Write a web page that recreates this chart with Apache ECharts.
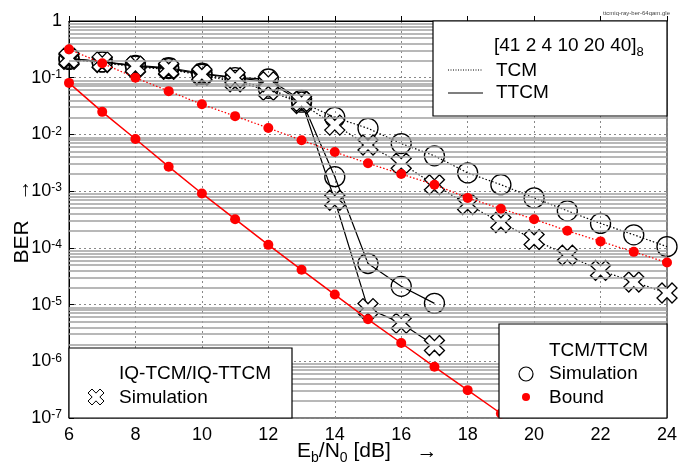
<!DOCTYPE html>
<html>
<head>
<meta charset="utf-8" />
<title></title>
<script src="https://cdn.jsdelivr.net/npm/echarts@6/dist/echarts.min.js"></script>
<style type="text/css">
  html, body { margin: 0; padding: 0; background: #fff; }
  #main { width: 691px; height: 466px; }
</style>
</head>
<body>
<div id="main"></div>
<script type="text/javascript">
// Eb/N0 in dB, one point per dB starting at 6
var ebn0 = [6, 7, 8, 9, 10, 11, 12, 13, 14, 15, 16, 17, 18, 19, 20, 21, 22, 23, 24];
var boundIQ = [0.081, 0.025, 0.0083, 0.0027, 0.00091, 0.00032, 1.13e-4, 4.1e-5, 1.5e-5, 5.5e-6, 2.1e-6, 8e-7, 3.1e-7, 1.2e-7];
var boundTCM = [0.316, 0.18, 0.1, 0.058, 0.034, 0.021, 0.013, 0.0079, 0.0049, 0.0031, 0.002, 0.0013, 7.6e-4, 4.9e-4, 3.2e-4, 2.0e-4, 1.3e-4, 8.5e-5, 5.5e-5];
var tcmSim = [0.21, 0.19, 0.16, 0.145, 0.115, 0.09, 0.065, 0.037, 0.02, 0.0128, 0.0069, 0.0042, 0.0021, 0.0013, 7.6e-4, 4.5e-4, 2.7e-4, 1.7e-4, 1.05e-4];
var iqTcmSim = [0.21, 0.185, 0.155, 0.14, 0.11, 0.085, 0.06, 0.035, 0.0146, 0.0065, 0.0031, 0.0013, 5.8e-4, 2.8e-4, 1.4e-4, 7.4e-5, 4e-5, 2.5e-5, 1.6e-5];
var ttcmSim = [0.22, 0.19, 0.165, 0.15, 0.12, 0.1, 0.095, 0.04, 0.0018, 5.3e-5, 2.1e-5, 1.05e-5];
var iqTtcmSim = [0.22, 0.19, 0.16, 0.145, 0.115, 0.1, 0.085, 0.038, 6.9e-4, 8.5e-6, 4.7e-6, 1.9e-6];

var FONT = '"Liberation Sans", Arial, sans-serif';
// X shaped marker outline in a 10x10 box
var crossPts = [[0, 2.5], [2.5, 0], [5, 2.6], [7.5, 0], [10, 2.5], [7.4, 5], [10, 7.5], [7.5, 10], [5, 7.4], [2.5, 10], [0, 7.5], [2.6, 5]];
var crossPath = 'path://M' + crossPts.map(function (p) { return p[0] + ',' + p[1]; }).join('L') + 'Z';

function pairs(ys) {
  var out = [];
  for (var i = 0; i < ys.length; i++) out.push([ebn0[i], ys[i]]);
  return out;
}

function crossAt(x, y, size) {
  return crossPts.map(function (p) { return [x + p[0] * size / 10, y + p[1] * size / 10]; });
}

// minor grid lines 2..9 in every decade, placed on a hidden linear axis of log10 values
var minorLines = [];
for (var e = -7; e < 0; e++) {
  for (var k = 2; k <= 9; k++) minorLines.push({ yAxis: e + Math.log10(k) });
}

var myChart = echarts.init(document.getElementById('main'));

var circleStyle = { color: 'rgba(0,0,0,0)', borderColor: '#000', borderWidth: 1.3 };
var crossStyle = { color: '#fff', borderColor: '#000', borderWidth: 1.3 };

var option = {
  animation: false,
  textStyle: { fontFamily: FONT },
  grid: {
    left: 69, right: 24, top: 21, bottom: 48,
    show: true, borderColor: '#000', borderWidth: 1, backgroundColor: '#fff'
  },
  xAxis: {
    type: 'value', min: 6, max: 24, interval: 2,
    axisLine: { lineStyle: { color: '#000' } },
    axisTick: { inside: true, length: 5, lineStyle: { color: '#000' } },
    axisLabel: { color: '#000', fontSize: 18, margin: 8, fontFamily: FONT },
    splitLine: { show: true, lineStyle: { color: '#888', type: [2, 3], width: 1 } }
  },
  yAxis: [{
    type: 'log', logBase: 10, min: 1e-7, max: 1,
    axisLine: { lineStyle: { color: '#000' } },
    axisTick: { inside: true, length: 5, lineStyle: { color: '#000' } },
    axisLabel: {
      color: '#000', margin: 7, fontFamily: FONT,
      formatter: function (v) {
        var ex = Math.round(Math.log10(v));
        if (ex === 0) return '{one|1}';
        return '{b|10}{sup|' + ex + '}';
      },
      rich: {
        one: { fontSize: 18, fontFamily: FONT, color: '#000' },
        b: { fontSize: 18, lineHeight: 18, padding: [8, 0, 0, 0], verticalAlign: 'bottom', fontFamily: FONT, color: '#000' },
        sup: { fontSize: 12, lineHeight: 12, padding: [0, 0, 6, 0], verticalAlign: 'bottom', fontFamily: FONT, color: '#000' }
      }
    },
    splitLine: { show: true, lineStyle: { color: '#888', type: [2, 3], width: 1 } }
  }, {
    type: 'value', min: -7, max: 0, show: false, splitLine: { show: false }
  }],
  series: [
    {
      type: 'line', data: [], z: 1, silent: true, yAxisIndex: 1,
      markLine: {
        silent: true, symbol: 'none', label: { show: false },
        lineStyle: { color: '#a0a0a0', type: 'solid', width: 1.5 },
        data: minorLines
      }
    },
    {
      name: 'TCM Simulation', type: 'line', data: pairs(tcmSim),
      symbol: 'circle', symbolSize: 20, z: 3,
      lineStyle: { color: '#000', width: 1.2, type: [1.5, 2] },
      itemStyle: circleStyle
    },
    {
      name: 'TTCM Simulation', type: 'line', data: pairs(ttcmSim),
      symbol: 'circle', symbolSize: 20, z: 3,
      lineStyle: { color: '#000', width: 1.2 },
      itemStyle: circleStyle
    },
    {
      name: 'IQ-TCM Simulation', type: 'line', data: pairs(iqTcmSim),
      symbol: crossPath, symbolSize: 20, z: 4,
      lineStyle: { color: '#000', width: 1.2, type: [1.5, 2] },
      itemStyle: crossStyle
    },
    {
      name: 'IQ-TTCM Simulation', type: 'line', data: pairs(iqTtcmSim),
      symbol: crossPath, symbolSize: 20, z: 4,
      lineStyle: { color: '#000', width: 1.2 },
      itemStyle: crossStyle
    },
    {
      name: 'TCM Bound', type: 'line', data: pairs(boundTCM),
      symbol: 'circle', symbolSize: 10, z: 5,
      lineStyle: { color: '#f00', width: 1.3, type: [1.5, 2] },
      itemStyle: { color: '#f00' }
    },
    {
      name: 'IQ-TCM Bound', type: 'line', data: pairs(boundIQ),
      symbol: 'circle', symbolSize: 10, z: 5,
      lineStyle: { color: '#f00', width: 1.5 },
      itemStyle: { color: '#f00' }
    }
  ],
  graphic: [
    // file tag
    { type: 'text', z: 100, x: 603, y: 10, style: { text: 'ttcmiq-ray-ber-64qam.gle', fontSize: 6, fontFamily: FONT, fill: '#444' } },
    // axis titles
    { type: 'text', z: 100, x: 22, y: 242, rotation: Math.PI / 2,
      style: { text: 'BER', fontSize: 21, fontFamily: FONT, fill: '#000', align: 'center', verticalAlign: 'middle' } },
    { type: 'text', z: 100, x: 23, y: 190, rotation: Math.PI / 2,
      style: { text: '\u2192', fontSize: 21, fontFamily: FONT, fill: '#000', align: 'center', verticalAlign: 'middle' } },
    { type: 'text', z: 100, x: 297, y: 455,
      style: {
        text: '{b|E}{s|b}{b|/N}{s|0}{b| [dB]}', fontFamily: FONT, fill: '#000', align: 'left', verticalAlign: 'middle',
        rich: {
          b: { fontSize: 21, lineHeight: 21, padding: [0, 0, 4, 0], verticalAlign: 'bottom', fontFamily: FONT },
          s: { fontSize: 14, lineHeight: 14, verticalAlign: 'bottom', fontFamily: FONT }
        }
      } },
    { type: 'text', z: 100, x: 427, y: 452,
      style: { text: '\u2192', fontSize: 21, fontFamily: FONT, fill: '#000', align: 'center', verticalAlign: 'middle' } },

    // top right legend box
    { type: 'rect', z: 100, shape: { x: 433, y: 21, width: 234, height: 95 }, style: { fill: '#fff', stroke: '#000', lineWidth: 1.2 } },
    { type: 'text', z: 101, x: 494, y: 49,
      style: {
        text: '{b|[41 2 4 10 20 40]}{s|8}', fontFamily: FONT, fill: '#000', align: 'left', verticalAlign: 'middle',
        rich: {
          b: { fontSize: 19, lineHeight: 19, padding: [0, 0, 3, 0], verticalAlign: 'bottom', fontFamily: FONT },
          s: { fontSize: 13, lineHeight: 13, verticalAlign: 'bottom', fontFamily: FONT }
        }
      } },
    { type: 'line', z: 101, shape: { x1: 448, y1: 70, x2: 483, y2: 70 }, style: { stroke: '#000', lineWidth: 1, lineDash: [1, 1.5] } },
    { type: 'text', z: 101, x: 496, y: 71, style: { text: 'TCM', fontSize: 19, fontFamily: FONT, fill: '#000', align: 'left', verticalAlign: 'middle' } },
    { type: 'line', z: 101, shape: { x1: 448, y1: 93, x2: 483, y2: 93 }, style: { stroke: '#000', lineWidth: 1.2 } },
    { type: 'text', z: 101, x: 496, y: 93, style: { text: 'TTCM', fontSize: 19, fontFamily: FONT, fill: '#000', align: 'left', verticalAlign: 'middle' } },

    // bottom left legend box
    { type: 'rect', z: 100, shape: { x: 69, y: 348, width: 223, height: 70 }, style: { fill: '#fff', stroke: '#000', lineWidth: 1.2 } },
    { type: 'text', z: 101, x: 119, y: 374, style: { text: 'IQ-TCM/IQ-TTCM', fontSize: 19, fontFamily: FONT, fill: '#000', align: 'left', verticalAlign: 'middle' } },
    { type: 'polygon', z: 101, shape: { points: crossAt(88, 389, 16) }, style: { fill: '#fff', stroke: '#000', lineWidth: 1 } },
    { type: 'text', z: 101, x: 119, y: 398, style: { text: 'Simulation', fontSize: 19, fontFamily: FONT, fill: '#000', align: 'left', verticalAlign: 'middle' } },

    // bottom right legend box
    { type: 'rect', z: 100, shape: { x: 499, y: 324, width: 168, height: 94 }, style: { fill: '#fff', stroke: '#000', lineWidth: 1.2 } },
    { type: 'text', z: 101, x: 549, y: 351, style: { text: 'TCM/TTCM', fontSize: 19, fontFamily: FONT, fill: '#000', align: 'left', verticalAlign: 'middle' } },
    { type: 'circle', z: 101, shape: { cx: 526, cy: 374, r: 7 }, style: { fill: '#fff', stroke: '#000', lineWidth: 1.2 } },
    { type: 'text', z: 101, x: 549, y: 374, style: { text: 'Simulation', fontSize: 19, fontFamily: FONT, fill: '#000', align: 'left', verticalAlign: 'middle' } },
    { type: 'circle', z: 101, shape: { cx: 526, cy: 397, r: 4 }, style: { fill: '#f00' } },
    { type: 'text', z: 101, x: 549, y: 398, style: { text: 'Bound', fontSize: 19, fontFamily: FONT, fill: '#000', align: 'left', verticalAlign: 'middle' } }
  ]
};

myChart.setOption(option);
</script>
</body>
</html>
